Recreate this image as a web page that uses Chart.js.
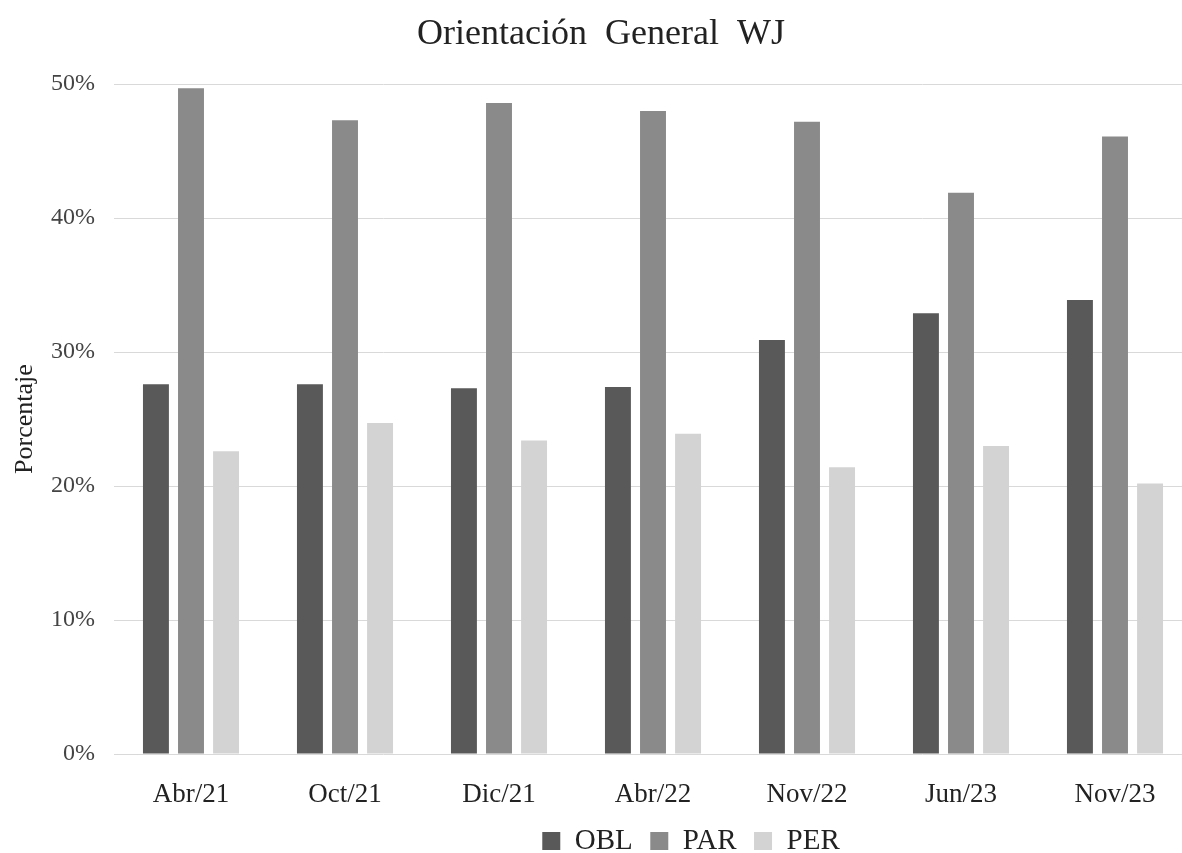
<!DOCTYPE html>
<html>
<head>
<meta charset="utf-8">
<script src="https://cdn.jsdelivr.net/npm/chart.js@4.4.0/dist/chart.umd.min.js"></script>
<style>
  html, body { margin: 0; padding: 0; background: #fff; overflow: hidden; }
  #wrap { width: 1192px; height: 853px; }
</style>
</head>
<body>
<div id="wrap"><canvas id="chart" width="1192" height="853"></canvas></div>
<script>
  // data (percent)
  var categories = ['Abr/21', 'Oct/21', 'Dic/21', 'Abr/22', 'Nov/22', 'Jun/23', 'Nov/23'];
  var oblValues = [27.6, 27.6, 27.3, 27.4, 30.9, 32.9, 33.9];
  var parValues = [49.7, 47.3, 48.6, 48.0, 47.2, 41.9, 46.1];
  var perValues = [22.6, 24.7, 23.4, 23.9, 21.4, 23.0, 20.2];
  var seriesNames = ['OBL', 'PAR', 'PER'];
  var yTickValues = [0, 10, 20, 30, 40, 50];

  var serif = "'Liberation Serif', 'Times New Roman', serif";
  var colors = ['#595959', '#8a8a8a', '#d3d3d3'];

  // legend: fixed height, then nudged to where the original sits
  var legendTweak = {
    id: 'legendTweak',
    afterInit: function (chart) {
      var l = chart.legend;
      var fit = l.fit;
      l.fit = function () {
        fit.call(this);
        this.height = 47;
      };
    },
    afterLayout: function (chart) {
      var l = chart.legend;
      var dx = 90, dy = 3;
      l.left += dx; l.right += dx;
      l.top += dy; l.bottom += dy;
    }
  };

  var ctx = document.getElementById('chart').getContext('2d');
  window.orientChart = new Chart(ctx, {
    type: 'bar',
    data: {
      labels: categories,
      datasets: [
        { label: seriesNames[0], data: oblValues, backgroundColor: colors[0] },
        { label: seriesNames[1], data: parValues, backgroundColor: colors[1] },
        { label: seriesNames[2], data: perValues, backgroundColor: colors[2] }
      ]
    },
    options: {
      responsive: false,
      animation: false,
      devicePixelRatio: 1,
      categoryPercentage: 0.683,
      barPercentage: 0.74,
      layout: { padding: { left: 10, right: 0, top: 0, bottom: 0 } },
      plugins: {
        title: {
          display: true,
          text: 'Orientación  General  WJ',
          color: '#222',
          font: { family: serif, size: 36, weight: 'normal', lineHeight: 1.2 },
          padding: { top: 13, bottom: 28 }
        },
        legend: {
          position: 'bottom',
          labels: {
            color: '#222',
            font: { family: serif, size: 29, lineHeight: 1.2 },
            boxWidth: 18,
            boxHeight: 18,
            padding: 17.5
          }
        },
        tooltip: { enabled: false }
      },
      scales: {
        x: {
          grid: { display: false },
          border: { display: false },
          ticks: {
            color: '#222',
            font: { family: serif, size: 27 },
            padding: 17,
            maxRotation: 0
          },
          afterFit: function (s) { s.height = 52; }
        },
        y: {
          min: 0,
          max: 50,
          afterBuildTicks: function (s) {
            s.ticks = yTickValues.map(function (v) { return { value: v }; });
          },
          grid: { color: '#d9d9d9', lineWidth: 1, drawTicks: false },
          border: { display: false },
          ticks: {
            color: '#444',
            font: { family: serif, size: 24 },
            padding: 19,
            callback: function (v) { return v + '%'; }
          },
          title: {
            display: true,
            text: 'Porcentaje',
            color: '#222',
            font: { family: serif, size: 26 },
            padding: { top: 0, bottom: 10 }
          },
          afterFit: function (s) { s.width = 104; }
        }
      }
    },
    plugins: [legendTweak]
  });
</script>
</body>
</html>
